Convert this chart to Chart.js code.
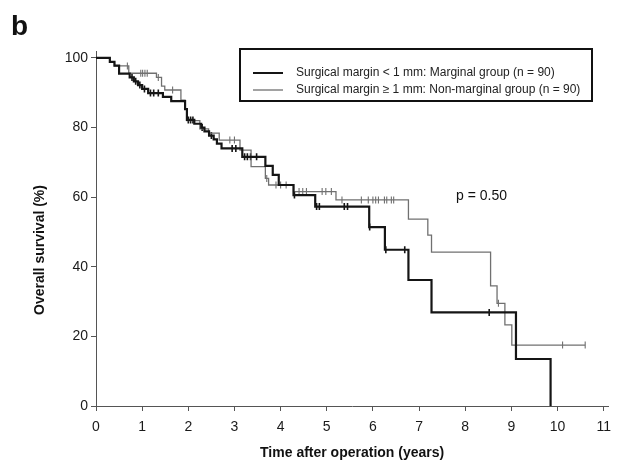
<!DOCTYPE html>
<html>
<head>
<meta charset="utf-8">
<script src="https://cdn.jsdelivr.net/npm/chart.js@4.4.0/dist/chart.umd.min.js"></script>
<style>
  html, body { margin: 0; padding: 0; background: #fff; }
  #wrap { width: 619px; height: 466px; }
</style>
</head>
<body>
<div id="wrap"><canvas id="km" width="619" height="466"></canvas></div>
<script>
// Kaplan-Meier steps: survival level (%) that starts at each time (years)
const marginalTimes = [0, 0.30, 0.40, 0.50, 0.73, 0.82, 0.91, 1.00, 1.13, 1.45, 1.63, 1.93, 1.97, 2.13, 2.28, 2.35, 2.45, 2.55, 2.62, 2.72, 3.17, 3.67, 3.83, 3.96, 4.28, 4.75, 5.92, 6.26, 6.77, 7.27, 9.10, 9.85];
const marginalSurv  = [100, 98.9, 97.8, 95.5, 94.4, 93.3, 92.2, 91.1, 89.9, 88.8, 87.6, 85.3, 82.2, 81.1, 80.0, 78.9, 77.7, 76.6, 75.4, 74.0, 71.6, 69.0, 66.4, 63.5, 60.6, 57.3, 51.4, 44.9, 36.2, 26.9, 13.5, 0];
const marginalCensored = [0.78, 0.86, 0.95, 1.05, 1.18, 1.25, 1.35, 2.0, 2.05, 2.1, 2.3, 2.5, 2.95, 3.03, 3.22, 3.28, 3.35, 3.48, 4.3, 4.78, 4.84, 5.38, 5.45, 5.93, 6.28, 6.69, 8.52];

const nonMarginalTimes = [0, 0.30, 0.40, 0.71, 1.31, 1.42, 1.49, 1.84, 1.93, 1.97, 2.25, 2.44, 2.67, 3.12, 3.36, 3.67, 3.74, 4.28, 5.20, 6.77, 7.19, 7.27, 8.55, 8.69, 8.86, 9.01, 10.6];
const nonMarginalSurv  = [100, 98.9, 97.7, 95.6, 94.4, 91.9, 90.8, 87.9, 85.2, 82.0, 79.6, 78.4, 76.4, 73.5, 68.8, 65.4, 63.5, 61.6, 59.2, 53.7, 49.1, 44.2, 34.5, 29.5, 23.3, 17.5, 17.5];
const nonMarginalCensored = [0.68, 0.97, 1.01, 1.06, 1.11, 1.35, 1.66, 2.9, 3.0, 3.7, 3.9, 4.0, 4.12, 4.4, 4.48, 4.56, 4.9, 4.98, 5.1, 5.33, 5.75, 5.9, 6.0, 6.06, 6.12, 6.25, 6.3, 6.4, 6.45, 8.72, 10.11, 10.6];

const xTicks = [0, 1, 2, 3, 4, 5, 6, 7, 8, 9, 10, 11];
const yTicks = [0, 20, 40, 60, 80, 100];

const FONT = '"Liberation Sans", Arial, sans-serif';
const DARK = '#151515';
const GREY = '#707070';

function steps(times, surv) {
  return times.map((t, i) => ({ x: t, y: surv[i] }));
}
function levelAt(times, surv, t) {
  let s = surv[0];
  for (let i = 0; i < times.length; i++) if (times[i] <= t) s = surv[i];
  return s;
}
function censorPoints(cens, times, surv) {
  return cens.map(t => ({ x: t, y: levelAt(times, surv, t) }));
}

const extras = {
  id: 'extras',
  afterDraw(chart) {
    const ctx = chart.ctx;
    ctx.save();
    ctx.fillStyle = '#111';
    ctx.font = 'bold 28px ' + FONT;
    ctx.textBaseline = 'alphabetic';
    ctx.textAlign = 'left';
    ctx.fillText('b', 11, 35);

    ctx.save();
    ctx.translate(40, 250);
    ctx.rotate(-Math.PI / 2);
    ctx.font = 'bold 14px ' + FONT;
    ctx.textAlign = 'center';
    ctx.textBaseline = 'middle';
    ctx.fillText('Overall survival (%)', 0, 0);
    ctx.restore();

    ctx.font = '14px ' + FONT;
    ctx.textBaseline = 'middle';
    ctx.fillText('p = 0.50', 456, 196);

    // legend box
    ctx.lineWidth = 2;
    ctx.strokeStyle = '#111';
    ctx.strokeRect(240, 49, 352, 52);
    const rows = [
      { text: 'Surgical margin < 1 mm: Marginal group (n = 90)', color: DARK, w: 2, y: 73 },
      { text: 'Surgical margin \u2265 1 mm: Non-marginal group (n = 90)', color: GREY, w: 1.3, y: 90 }
    ];
    ctx.font = '12px ' + FONT;
    rows.forEach(r => {
      ctx.beginPath();
      ctx.strokeStyle = r.color;
      ctx.lineWidth = r.w;
      ctx.moveTo(253, r.y);
      ctx.lineTo(283, r.y);
      ctx.stroke();
      ctx.fillStyle = '#222';
      ctx.fillText(r.text, 296, r.y);
    });
    ctx.restore();
  }
};

new Chart(document.getElementById('km'), {
  type: 'scatter',
  data: {
    datasets: [
      { label: 'Marginal', data: steps(marginalTimes, marginalSurv), showLine: true, stepped: true,
        borderColor: DARK, borderWidth: 2.2, pointRadius: 0 },
      { label: 'Non-marginal', data: steps(nonMarginalTimes, nonMarginalSurv), showLine: true, stepped: true,
        borderColor: GREY, borderWidth: 1.3, pointRadius: 0 },
      { label: 'Marginal censored', data: censorPoints(marginalCensored, marginalTimes, marginalSurv),
        pointStyle: 'line', rotation: 90, pointRadius: 3.5, borderColor: DARK, borderWidth: 1.6 },
      { label: 'Non-marginal censored', data: censorPoints(nonMarginalCensored, nonMarginalTimes, nonMarginalSurv),
        pointStyle: 'line', rotation: 90, pointRadius: 3.5, borderColor: GREY, borderWidth: 1.1 }
    ]
  },
  options: {
    responsive: false,
    animation: false,
    devicePixelRatio: 1,
    layout: { padding: { top: 51, right: 9, left: 0, bottom: 0 } },
    plugins: { legend: { display: false }, tooltip: { enabled: false } },
    scales: {
      x: {
        type: 'linear', min: 0, max: 11.1,
        afterBuildTicks: s => { s.ticks = xTicks.map(v => ({ value: v })); },
        afterFit: s => { s.height = 60; },
        grid: { drawOnChartArea: false, drawTicks: true, tickLength: 5, color: '#555' },
        border: { display: true, color: '#555', width: 1 },
        ticks: { color: '#1a1a1a', font: { family: FONT, size: 14 }, padding: 8, maxRotation: 0 },
        title: { display: true, text: 'Time after operation (years)', color: '#111',
                 font: { family: FONT, size: 14, weight: 'bold' }, padding: { bottom: 4 } }
      },
      y: {
        type: 'linear', min: 0, max: 102,
        afterBuildTicks: s => { s.ticks = yTicks.map(v => ({ value: v })); },
        afterFit: s => { s.width = 96; },
        grid: { drawOnChartArea: false, drawTicks: true, tickLength: 5, color: '#555' },
        border: { display: true, color: '#555', width: 1 },
        ticks: { color: '#1a1a1a', font: { family: FONT, size: 14 }, padding: 3 }
      }
    }
  },
  plugins: [extras]
});
</script>
</body>
</html>
